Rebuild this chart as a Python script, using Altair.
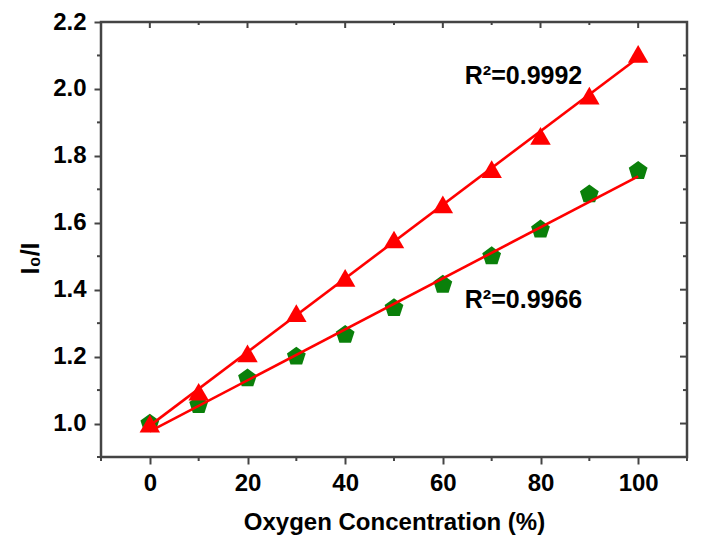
import altair as alt
import pandas as pd

# ---- data ----
CONC = [0, 10, 20, 30, 40, 50, 60, 70, 80, 90, 100]
RED_VALUES = [1.00, 1.095, 1.21, 1.33, 1.435, 1.55, 1.655, 1.76, 1.86, 1.98, 2.105]
GREEN_VALUES = [1.00, 1.055, 1.135, 1.20, 1.265, 1.345, 1.415, 1.50, 1.58, 1.685, 1.755]

X_MAJOR = [0, 20, 40, 60, 80, 100]
X_MINOR = [-10, 10, 30, 50, 70, 90, 110]
Y_MAJOR = [1.0, 1.2, 1.4, 1.6, 1.8, 2.0, 2.2]
Y_MINOR = [0.9, 1.1, 1.3, 1.5, 1.7, 1.9, 2.1]

LABELS = ["R\u00b2=0.9992", "R\u00b2=0.9966"]
LABEL_X = [64.5, 64.5]
LABEL_Y = [2.04, 1.37]

W, H = 586, 435
FONT = "Liberation Sans"
AX = "#444444"

df = pd.DataFrame({
    "conc": CONC * 2,
    "val": RED_VALUES + GREEN_VALUES,
    "series": ["red"] * len(CONC) + ["green"] * len(CONC),
})

xs = alt.Scale(domain=[-10, 110], nice=False, zero=False)
ys = alt.Scale(domain=[0.9, 2.2], nice=False, zero=False)

x_axis = alt.Axis(values=X_MAJOR, title="Oxygen Concentration (%)", domain=False,
                  grid=False, tickSize=7, tickWidth=2, tickColor=AX,
                  labelFont=FONT, labelFontWeight="bold", labelFontSize=24,
                  labelColor="black", labelPadding=7,
                  titleFont=FONT, titleFontWeight="bold", titleFontSize=24,
                  titleColor="black", titlePadding=15)
y_axis = alt.Axis(values=Y_MAJOR, format=".1f", title="I\u2080/I", domain=False,
                  grid=False, tickSize=7, tickWidth=2, tickColor=AX,
                  labelFont=FONT, labelFontWeight="bold", labelFontSize=24,
                  labelColor="black", labelPadding=8,
                  titleFont=FONT, titleFontWeight="bold", titleFontSize=25,
                  titleColor="black", titleX=-58, titleY=236, titleBaseline="bottom")

X = alt.X("conc:Q", scale=xs, axis=x_axis)
Y = alt.Y("val:Q", scale=ys, axis=y_axis)

green_pts = alt.Chart(df).transform_filter(alt.datum.series == "green").mark_point(
    shape="M0,-1L0.951,-0.309L0.588,0.809L-0.588,0.809L-0.951,-0.309Z",
    filled=True, color="#0a800a", size=390, opacity=1,
).encode(x=X, y=Y)

fit = alt.Chart(df).transform_regression(
    "conc", "val", groupby=["series"], extent=[0, 100]
).mark_line(color="#ff0000", strokeWidth=2.6).encode(
    x=X, y=Y, detail="series:N",
)

red_pts = alt.Chart(df).transform_filter(alt.datum.series == "red").mark_point(
    shape="triangle-up", filled=True, color="#ff0000", size=420, opacity=1,
).encode(x=X, y=Y)

# minor / mirrored ticks
def xticks(vals, y0, y1):
    return alt.Chart(pd.DataFrame({"conc": vals})).mark_rule(
        color=AX, strokeWidth=2).encode(
        x=X, y=alt.value(y0), y2=alt.value(y1))

def yticks(vals, x0, x1):
    return alt.Chart(pd.DataFrame({"val": vals})).mark_rule(
        color=AX, strokeWidth=2).encode(
        y=Y, x=alt.value(x0), x2=alt.value(x1))

ticks = [
    xticks(X_MINOR, H, H + 4),      # bottom minor (outside)
    xticks(X_MAJOR, 0, 6),          # top major (inside)
    xticks(X_MINOR, 0, 3),          # top minor (inside)
    yticks(Y_MINOR, 0, -4),         # left minor (outside)
    yticks(Y_MAJOR, W, W - 7),      # right major (inside)
    yticks(Y_MINOR, W, W - 4),      # right minor (inside)
]

labels = alt.Chart(pd.DataFrame({"conc": LABEL_X, "val": LABEL_Y, "t": LABELS})).mark_text(
    align="left", baseline="middle", font=FONT, fontWeight="bold", fontSize=25, color="black"
).encode(x=X, y=Y, text="t:N")

chart = alt.layer(green_pts, fit, red_pts, *ticks, labels).properties(
    width=W, height=H,
    background="white",
    autosize=alt.AutoSizeParams(type="none"),
    padding={"left": 93, "top": 14, "right": 7, "bottom": 89},
).configure_view(stroke=AX, strokeWidth=2.5)

chart.save("out.html", embed_options={"renderer": "svg", "actions": False})
